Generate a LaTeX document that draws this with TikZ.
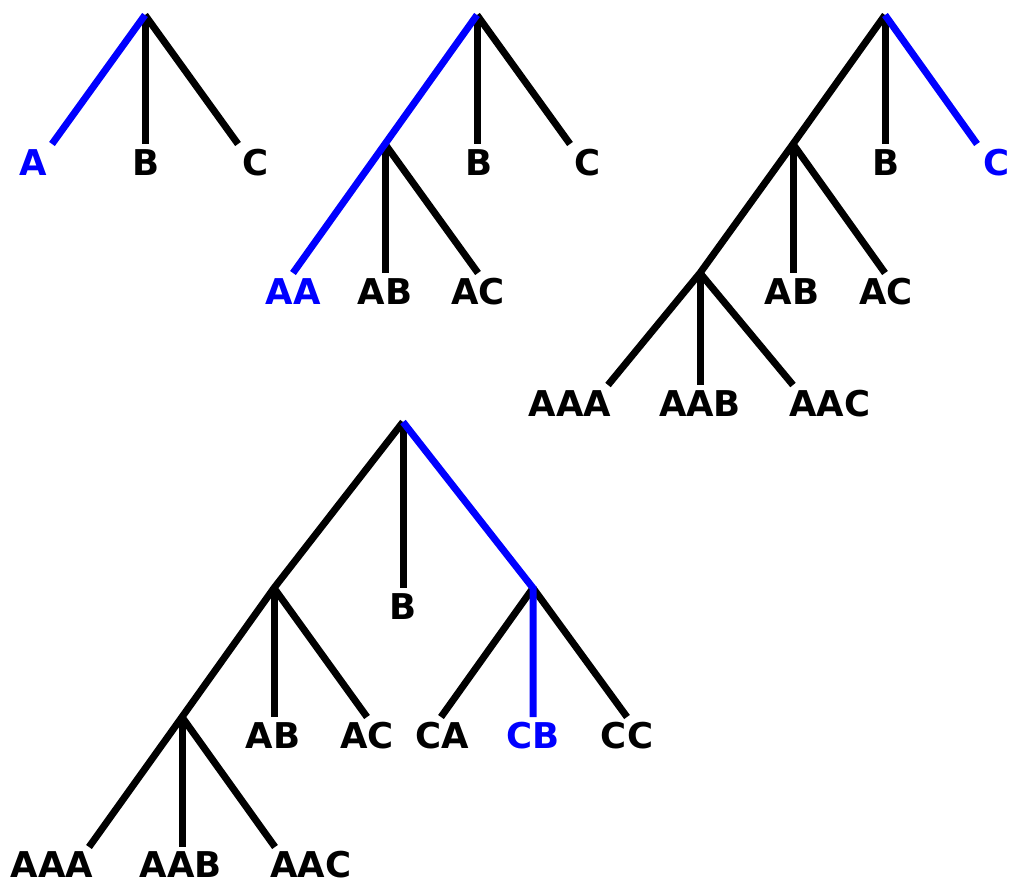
\documentclass[tikz,border=0pt]{standalone}
\usepackage{fontspec}
\setmainfont{DejaVu Sans}
\begin{document}
\begin{tikzpicture}[x=1pt,y=-1pt,
  edge/.style={line width=7pt,line cap=butt,line join=miter,black},
  hl/.style={edge,color={rgb,255:red,0;green,0;blue,255}},
  lbl/.style={anchor=base,inner sep=0pt,font=\fontsize{35.5}{42}\selectfont\bfseries,text=black},
  hlbl/.style={lbl,text={rgb,255:red,0;green,0;blue,255}}]
\useasboundingbox (0,0) rectangle (1011,883);
% ---------- Tree 1
\coordinate (r1) at (145,15);
\coordinate (e1a) at (52,144);
\coordinate (e1b) at (145,144);
\coordinate (e1c) at (238,144);
\draw[edge] (r1) -- (e1b);
\draw[edge] (r1) -- (e1c);
\draw[hl] (r1) -- (e1a);
\node[hlbl] (l1a) at (33,175) {A};
\node[lbl] (l1b) at (146,175) {B};
\node[lbl] (l1c) at (256,175) {C};
% ---------- Tree 2
\coordinate (r2) at (477,15);
\coordinate (n2a) at (385,144);
\coordinate (e2b) at (477,144);
\coordinate (e2c) at (570,144);
\coordinate (e2aa) at (293,273);
\coordinate (e2ab) at (385,273);
\coordinate (e2ac) at (478,273);
\draw[edge] (r2) -- (e2b);
\draw[edge] (r2) -- (e2c);
\draw[edge] (n2a) -- (e2ab);
\draw[edge] (n2a) -- (e2ac);
\draw[hl] (r2) -- (n2a) -- (e2aa);
\node[lbl] (l2b) at (479,175) {B};
\node[lbl] (l2c) at (588,175) {C};
\node[hlbl] (l2aa) at (293,304) {AA};
\node[lbl] (l2ab) at (385,304) {AB};
\node[lbl] (l2ac) at (478,304) {AC};
% ---------- Tree 3
\coordinate (r3) at (885,15);
\coordinate (n3a) at (793,144);
\coordinate (e3b) at (885,144);
\coordinate (e3c) at (977,144);
\coordinate (n3aa) at (700,273);
\coordinate (e3ab) at (793,273);
\coordinate (e3ac) at (885,273);
\coordinate (e3aaa) at (608,385);
\coordinate (e3aab) at (700,385);
\coordinate (e3aac) at (793,385);
\draw[edge] (r3) -- (n3a) -- (n3aa) -- (e3aaa);
\draw[edge] (r3) -- (e3b);
\draw[edge] (n3a) -- (e3ab);
\draw[edge] (n3a) -- (e3ac);
\draw[edge] (n3aa) -- (e3aab);
\draw[edge] (n3aa) -- (e3aac);
\draw[hl] (r3) -- (e3c);
\node[lbl] (l3b) at (886,175) {B};
\node[hlbl] (l3c) at (997,175) {C};
\node[lbl] (l3ab) at (792,304) {AB};
\node[lbl] (l3ac) at (886,304) {AC};
\node[lbl] (l3aaa) at (570,416) {AAA};
\node[lbl] (l3aab) at (700,416) {AAB};
\node[lbl] (l3aac) at (830,416) {AAC};
% ---------- Tree 4
\coordinate (r4) at (403,422);
\coordinate (n4a) at (274,588);
\coordinate (e4b) at (403,588);
\coordinate (n4c) at (533,588);
\coordinate (n4aa) at (182,717);
\coordinate (e4ab) at (274,717);
\coordinate (e4ac) at (367,717);
\coordinate (e4ca) at (441,717);
\coordinate (e4cb) at (533,717);
\coordinate (e4cc) at (627,717);
\coordinate (e4aaa) at (89,847);
\coordinate (e4aab) at (182,847);
\coordinate (e4aac) at (275,847);
\draw[edge] (r4) -- (n4a) -- (n4aa) -- (e4aaa);
\draw[edge] (r4) -- (e4b);
\draw[edge] (n4a) -- (e4ab);
\draw[edge] (n4a) -- (e4ac);
\draw[edge] (n4aa) -- (e4aab);
\draw[edge] (n4aa) -- (e4aac);
\draw[edge] (n4c) -- (e4ca);
\draw[edge] (n4c) -- (e4cc);
\draw[hl] (r4) -- (n4c) -- (e4cb);
\node[lbl] (l4b) at (403,619) {B};
\node[lbl] (l4ab) at (273,748) {AB};
\node[lbl] (l4ac) at (367,748) {AC};
\node[lbl] (l4ca) at (442,748) {CA};
\node[hlbl] (l4cb) at (533,748) {CB};
\node[lbl] (l4cc) at (627,748) {CC};
\node[lbl] (l4aaa) at (52,877) {AAA};
\node[lbl] (l4aab) at (181,877) {AAB};
\node[lbl] (l4aac) at (311,877) {AAC};
\end{tikzpicture}
\end{document}
